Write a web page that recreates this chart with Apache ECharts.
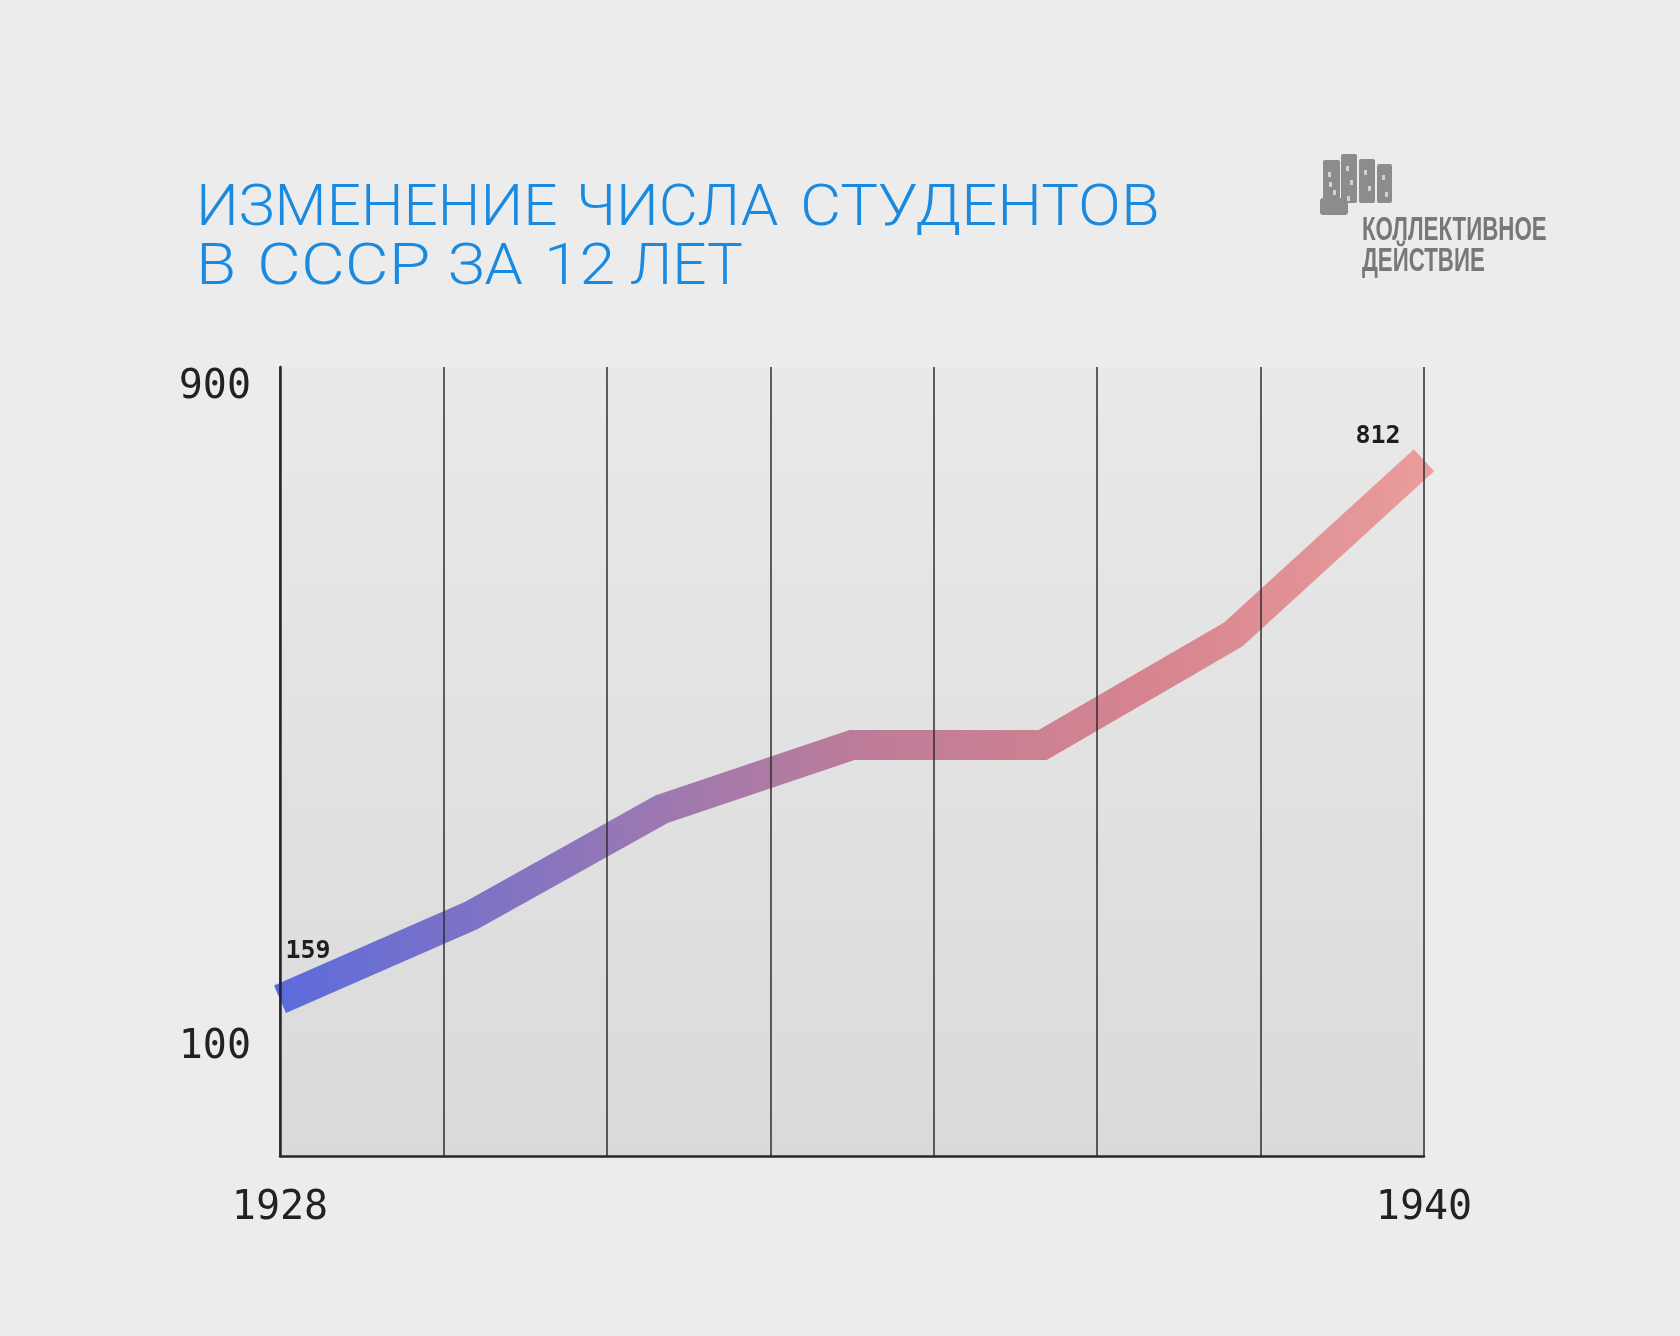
<!DOCTYPE html>
<html>
<head>
<meta charset="utf-8">
<script src="https://cdn.jsdelivr.net/npm/echarts@6/dist/echarts.min.js"></script>
<style>
html,body{margin:0;padding:0;background:#ececec;}
#chart{width:1680px;height:1336px;}
</style>
</head>
<body>
<div id="chart"></div>
<script>
// ---- data ----
const years = [1928, 1930, 1932, 1934, 1936, 1938, 1940];
const students = [159, 260, 389, 467, 467, 601, 812]; // thousands
const xTickLabels = [1928, 1940];
const yTickLabels = [100, 900];
const labeledIdx = [0, 6];
const titleLines = ['ИЗМЕНЕНИЕ ЧИСЛА СТУДЕНТОВ', 'В СССР ЗА 12 ЛЕТ'];
const logoLines = ['КОЛЛЕКТИВНОЕ', 'ДЕЙСТВИЕ'];

const chart = echarts.init(document.getElementById('chart'), null, {renderer: 'canvas'});

const labelOffsets = {0: [28, -33], 6: [-46, -9]};
const seriesData = years.map((y, i) => {
  const item = {value: [y, students[i]]};
  if (labeledIdx.indexOf(i) >= 0) {
    item.label = {show: true, position: 'top', distance: 0, offset: labelOffsets[i]};
  }
  return item;
});

const monoFont = '"DejaVu Sans Mono", "Liberation Mono", monospace';
const iconColor = '#8c8c8c';
const iconBars = [
  [1323, 160, 17, 43],
  [1341, 154, 16, 49],
  [1359, 159, 16, 44],
  [1377, 164, 15, 39]
];
const graphics = [];
iconBars.forEach(b => {
  graphics.push({type: 'rect', shape: {x: b[0], y: b[1], width: b[2], height: b[3], r: 2}, style: {fill: iconColor}});
});
graphics.push({type: 'rect', shape: {x: 1320, y: 198, width: 28, height: 17, r: 3}, style: {fill: iconColor}});
const windows = [[1328,172],[1333,190],[1346,166],[1350,180],[1347,196],[1364,170],[1368,186],[1382,175],[1385,192],[1329,182]];
windows.forEach(w => {
  graphics.push({type: 'rect', shape: {x: w[0], y: w[1], width: 3, height: 5}, style: {fill: '#d2d2d2'}});
});
graphics.push({type: 'text', x: 1362, y: 214, scaleX: 0.655, style: {text: logoLines[0], fill: '#787878', font: 'bold 34px "Liberation Sans", Arial, sans-serif', textAlign: 'left', textVerticalAlign: 'top'}});
graphics.push({type: 'text', x: 1362, y: 245, scaleX: 0.655, style: {text: logoLines[1], fill: '#787878', font: 'bold 34px "Liberation Sans", Arial, sans-serif', textAlign: 'left', textVerticalAlign: 'top'}});

// title words: layout (x start, horizontal scale) per word
const titleLayout = [
  {y: 181, words: [[196, 1.038], [576, 1.037], [800, 1.092]]},
  {y: 240, words: [[196, 1.13], [257, 1.166], [448, 1.057], [544, 1.107], [630, 1.037]]}
];
titleLines.forEach((line, li) => {
  line.split(' ').forEach((w, wi) => {
    const lay = titleLayout[li].words[wi];
    graphics.push({type: 'text', x: lay[0], y: titleLayout[li].y, scaleX: lay[1],
      style: {text: w, fill: '#1a8ae0', font: '300 58px Roboto, "Liberation Sans", sans-serif', textAlign: 'left', textVerticalAlign: 'top'}});
  });
});

const option = {
  backgroundColor: '#ececec',
  animation: false,
  grid: {
    left: 280, right: 256, top: 367, bottom: 180,
    show: true,
    borderWidth: 0,
    backgroundColor: new echarts.graphic.LinearGradient(0, 0, 0, 1, [
      {offset: 0, color: '#e9e9e9'},
      {offset: 1, color: '#dadada'}
    ])
  },
  xAxis: [
    {
      type: 'value', min: 0, max: 7, interval: 1, position: 'bottom', z: 5,
      axisLine: {show: true, onZero: false, lineStyle: {color: '#262626', width: 2.5}},
      axisTick: {show: false},
      axisLabel: {show: false},
      splitLine: {show: true, lineStyle: {color: '#2e2e2e', width: 1.5}}
    },
    {
      type: 'value', min: 1928, max: 1940, position: 'bottom',
      axisLine: {show: false},
      axisTick: {show: false},
      splitLine: {show: false},
      axisLabel: {
        show: true, customValues: xTickLabels, margin: 33,
        color: '#222', fontFamily: monoFont, fontSize: 40,
        formatter: v => String(v)
      }
    }
  ],
  yAxis: {
    type: 'value', min: -31, max: 925, z: 5,
    axisLine: {show: true, onZero: false, lineStyle: {color: '#262626', width: 2.5}},
    axisTick: {show: false},
    splitLine: {show: false},
    axisLabel: {
      show: true, customValues: yTickLabels, margin: 29,
      color: '#222', fontFamily: monoFont, fontSize: 40,
      formatter: v => String(v)
    }
  },
  series: [{
    type: 'line',
    xAxisIndex: 1,
    data: seriesData,
    showSymbol: true,
    symbol: 'circle',
    symbolSize: 4,
    itemStyle: {color: 'rgba(0,0,0,0)'},
    lineStyle: {
      width: 30,
      cap: 'butt',
      join: 'miter',
      color: new echarts.graphic.LinearGradient(0, 0, 1, 0, [
        {offset: 0, color: '#5a6bdd'},
        {offset: 0.3, color: '#9577b6'},
        {offset: 0.5, color: '#bc7c99'},
        {offset: 0.75, color: '#d6848f'},
        {offset: 1, color: '#eb9e9c'}
      ])
    },
    label: {
      show: false,
      color: '#1e1e1e', fontFamily: monoFont, fontWeight: 'bold', fontSize: 25,
      formatter: p => String(p.value[1])
    },
    emphasis: {disabled: true}
  }],
  graphic: graphics
};
chart.setOption(option);
</script>
</body>
</html>
